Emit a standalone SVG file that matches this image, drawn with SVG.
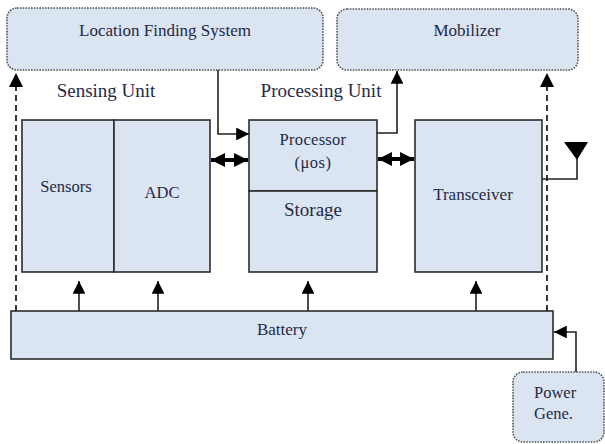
<svg xmlns="http://www.w3.org/2000/svg" width="605" height="444" viewBox="0 0 605 444">
<defs>
<style>
text{font-family:"Liberation Serif","DejaVu Serif",serif;fill:#1f2a48;text-anchor:middle}
.box{fill:#dbe4f1;stroke:#2b2b2b;stroke-width:1.6}
.rbox{fill:#dbe4f1;stroke:#555;stroke-width:1.6;stroke-dasharray:1.6 1.2}
.ln{fill:none;stroke:#222;stroke-width:1.6}
.dash{fill:none;stroke:#222;stroke-width:1.8;stroke-dasharray:6 4}
.thick{fill:none;stroke:#000;stroke-width:4}
</style>
<marker id="ah" viewBox="0 0 10 10" refX="10" refY="5" markerWidth="8" markerHeight="8" markerUnits="strokeWidth" orient="auto-start-reverse">
<path d="M0,0 L10,5 L0,10 z" fill="#000"/>
</marker>
<marker id="ahb" viewBox="0 0 10 10" refX="10" refY="5" markerWidth="3.5" markerHeight="3.5" markerUnits="strokeWidth" orient="auto-start-reverse">
<path d="M0,0 L10,5 L0,10 z" fill="#000"/>
</marker>
</defs>
<rect width="605" height="444" fill="#fff"/>

<g id="lfs">
<rect class="rbox" x="7" y="8" width="316" height="62" rx="10"/>
<text font-family="Liberation Serif, serif" x="165" y="36" font-size="17">Location Finding System</text>
</g>
<g id="mobilizer">
<rect class="rbox" x="337" y="9" width="241" height="61" rx="10"/>
<text font-family="Liberation Serif, serif" x="467" y="36" font-size="17">Mobilizer</text>
</g>
<g id="sensing-label">
<text font-family="Liberation Serif, serif" x="106" y="97" font-size="19">Sensing Unit</text>
</g>
<g id="processing-label">
<text font-family="Liberation Serif, serif" x="321" y="97" font-size="19">Processing Unit</text>
</g>
<g id="sensors">
<rect class="box" x="22" y="120" width="92" height="152"/>
<text font-family="Liberation Serif, serif" x="66" y="192" font-size="16.5">Sensors</text>
</g>
<g id="adc">
<rect class="box" x="114" y="120" width="96" height="152"/>
<text font-family="Liberation Serif, serif" x="162" y="198" font-size="16.5">ADC</text>
</g>
<g id="processor">
<rect class="box" x="249" y="120" width="128" height="71"/>
<text font-family="Liberation Serif, serif" x="313" y="145" font-size="16.5" letter-spacing="0.3">Processor</text>
<text font-family="Liberation Serif, serif" x="313" y="168" font-size="16.5" letter-spacing="0.5">(μos)</text>
</g>
<g id="storage">
<rect class="box" x="249" y="191" width="128" height="81"/>
<text font-family="Liberation Serif, serif" x="313" y="216" font-size="19">Storage</text>
</g>
<g id="transceiver">
<rect class="box" x="415" y="120" width="127" height="152"/>
<text font-family="Liberation Serif, serif" x="473" y="200" font-size="17">Transceiver</text>
</g>
<g id="battery">
<rect class="box" x="11" y="311" width="542" height="48"/>
<text font-family="Liberation Serif, serif" x="282" y="335" font-size="17">Battery</text>
</g>
<g id="power">
<rect class="rbox" x="513" y="372" width="91" height="70" rx="10"/>
<text font-family="Liberation Serif, serif" x="534" y="398" font-size="16.5" style="text-anchor:start">Power</text>
<text font-family="Liberation Serif, serif" x="534" y="419" font-size="16.5" style="text-anchor:start">Gene.</text>
</g>
<g id="antenna">
<polygon points="564,142 588,142 577,160" fill="#000"/>
</g>

<g id="connectors">
<path class="ln" d="M218,70 V134 H249" marker-end="url(#ah)"/>
<path class="ln" d="M377,133 H397 V71" marker-end="url(#ah)" stroke="#555"/>
<path class="dash" d="M16,311 V73" marker-end="url(#ah)"/>
<path class="dash" d="M547,311 V73" marker-end="url(#ah)"/>
<path class="thick" d="M211,160 H248" marker-start="url(#ahb)" marker-end="url(#ahb)"/>
<path class="thick" d="M378,159 H414" marker-start="url(#ahb)" marker-end="url(#ahb)"/>
<path class="ln" d="M542,179 H577 V158"/>
<path class="ln" d="M79,311 V281" marker-end="url(#ah)"/>
<path class="ln" d="M158,311 V281" marker-end="url(#ah)"/>
<path class="ln" d="M308,311 V281" marker-end="url(#ah)"/>
<path class="ln" d="M476,311 V281" marker-end="url(#ah)"/>
<path class="ln" d="M576,372 V332 H554" marker-end="url(#ah)"/>
</g>
</svg>
